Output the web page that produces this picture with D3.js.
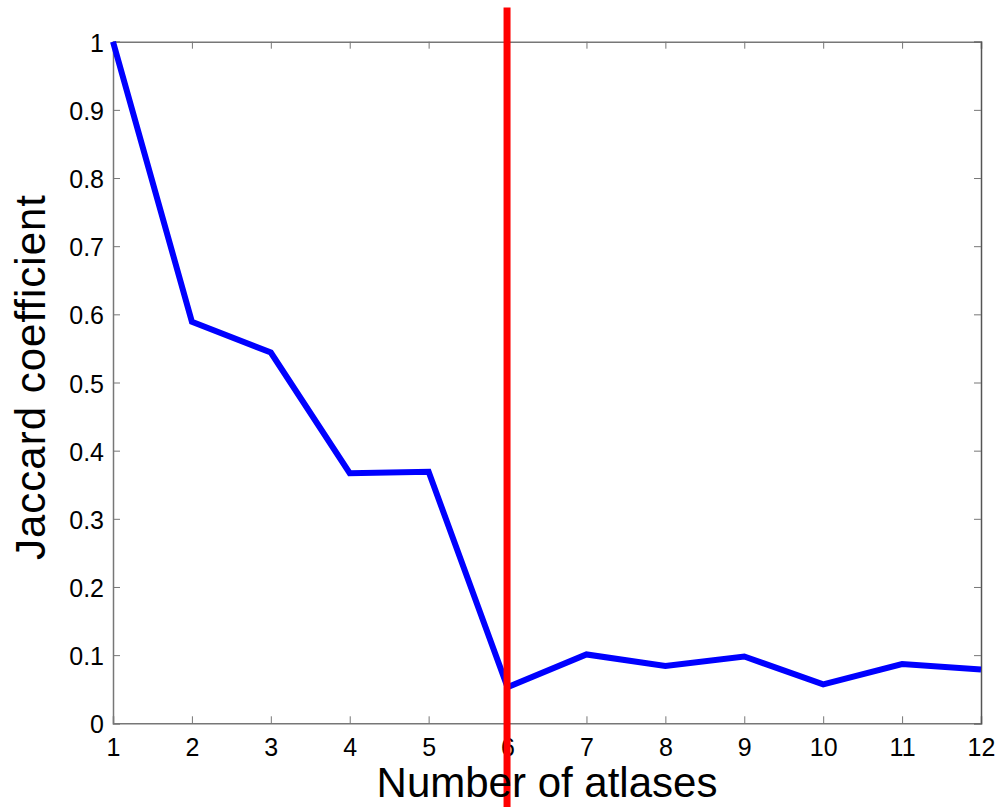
<!DOCTYPE html>
<html>
<head>
<meta charset="utf-8">
<script src="https://cdn.jsdelivr.net/npm/d3@7"></script>
<style>
  body { margin: 0; background: #fff; }
  text { font-family: "Liberation Sans", Arial, sans-serif; }
</style>
</head>
<body>
<div id="chart"></div>
<script>
// data
const atlases = [1, 2, 3, 4, 5, 6, 7, 8, 9, 10, 11, 12];
const jaccard = [1.0, 0.589, 0.544, 0.367, 0.369, 0.053, 0.101, 0.084, 0.098, 0.057, 0.087, 0.079];
const yTicks = [0, 0.1, 0.2, 0.3, 0.4, 0.5, 0.6, 0.7, 0.8, 0.9, 1];
const markerAt = 6;

var width = 1001, height = 807;
var padLeft = 113, padRight = 981, padTop = 41.7, padBottom = 723.3;

const svg = d3.select("#chart")
  .append("svg")
  .attr("width", width)
  .attr("height", height);

var x = d3.scaleLinear().domain([1, 12]).range([padLeft, padRight]);
var y = d3.scaleLinear().domain([0, 1]).range([padBottom, padTop]);

var axisColor = "#777";

function styleLabels(g) {
  g.attr("font-size", null).attr("font-family", null);
  g.selectAll("text")
    .style("font-size", "25px")
    .attr("fill", "#000");
}

// bottom axis with labels
svg.append("g")
  .attr("transform", "translate(0," + padBottom + ")")
  .call(d3.axisBottom(x).tickValues(atlases).tickSize(-7).tickPadding(15).tickFormat(d3.format("d")))
  .call(g => {
    g.select(".domain").attr("stroke", axisColor).attr("stroke-width", 1.5);
    g.selectAll(".tick line").attr("stroke", axisColor);
    styleLabels(g);
  });

// top axis, ticks only
svg.append("g")
  .attr("transform", "translate(0," + padTop + ")")
  .call(d3.axisTop(x).tickValues(atlases).tickSize(-7).tickFormat(""))
  .call(g => {
    g.select(".domain").attr("stroke", axisColor).attr("stroke-width", 1.5);
    g.selectAll(".tick line").attr("stroke", axisColor);
  });

// left axis
svg.append("g")
  .attr("transform", "translate(" + padLeft + ",0)")
  .call(d3.axisLeft(y).tickValues(yTicks).tickSize(-7).tickPadding(9)
    .tickFormat(d => d === 0 || d === 1 ? d3.format("d")(d) : d3.format(".1f")(d)))
  .call(g => {
    g.select(".domain").attr("stroke", axisColor).attr("stroke-width", 1.5);
    g.selectAll(".tick line").attr("stroke", axisColor);
    styleLabels(g);
    g.selectAll("text").attr("dy", "0.38em");
  });

// right axis, ticks only
svg.append("g")
  .attr("transform", "translate(" + padRight + ",0)")
  .call(d3.axisRight(y).tickValues(yTicks).tickSize(-7).tickFormat(""))
  .call(g => {
    g.select(".domain").attr("stroke", "#555").attr("stroke-width", 1.5);
    g.selectAll(".tick line").attr("stroke", axisColor);
  });

// the series
var line = d3.line()
  .x((d, i) => x(atlases[i]))
  .y(d => y(d));

svg.append("path")
  .datum(jaccard)
  .attr("fill", "none")
  .attr("stroke", "#0000ff")
  .attr("stroke-width", 6)
  .attr("stroke-linejoin", "miter")
  .attr("d", line);

// red vertical marker
svg.append("line")
  .attr("x1", x(markerAt) - 0.5)
  .attr("x2", x(markerAt) - 0.5)
  .attr("y1", y(1.05))
  .attr("y2", height)
  .attr("stroke", "#ff0000")
  .attr("stroke-width", 7);

// axis titles
svg.append("text")
  .attr("x", (padLeft + padRight) / 2)
  .attr("y", 797)
  .attr("text-anchor", "middle")
  .attr("font-size", 42)
  .text("Number of atlases");

svg.append("text")
  .attr("transform", "translate(45," + 377 + ")rotate(-90)")
  .attr("text-anchor", "middle")
  .attr("font-size", 42)
  .attr("letter-spacing", 1)
  .text("Jaccard coefficient");
</script>
</body>
</html>
